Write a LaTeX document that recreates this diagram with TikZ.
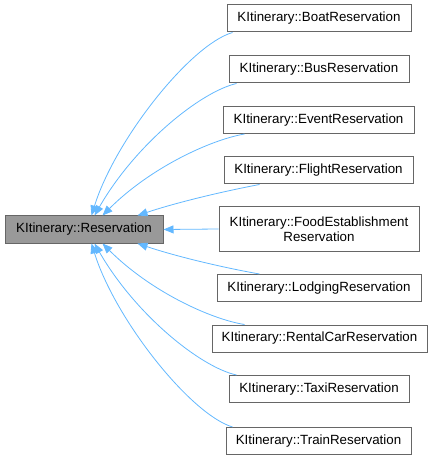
\documentclass[tikz,border=0pt]{standalone}
\usepackage{fontspec}
\setmainfont{Liberation Sans}
\usetikzlibrary{arrows.meta,calc}
\definecolor{edgeblue}{HTML}{63B8FF}
\definecolor{boxborder}{HTML}{666666}
\definecolor{basefill}{HTML}{999999}
\begin{document}
\begin{tikzpicture}[x=0.75pt,y=-0.75pt,
  cls/.style={draw=boxborder,line width=0.75pt,inner sep=0pt,minimum height=27*0.75pt,font=\fontsize{10}{11.5}\selectfont,align=center,text=black},
  inh/.style={draw=edgeblue,line width=0.6pt,-{Triangle[length=7.5pt,width=6pt]}}]
\useasboundingbox (0,0) rectangle (432,459);
\node[cls,fill=basefill,minimum width=158*0.75pt] (base) at (84,229.5) {KItinerary::Reservation};
\node[cls,minimum width=184*0.75pt] (boat) at (319,18.5) {KItinerary::BoatReservation};
\node[cls,minimum width=180*0.75pt] (bus) at (319,69.5) {KItinerary::BusReservation};
\node[cls,minimum width=191*0.75pt] (event) at (318.5,120) {KItinerary::EventReservation};
\node[cls,minimum width=189*0.75pt] (flight) at (318.5,170.5) {KItinerary::FlightReservation};
\node[cls,minimum width=200*0.75pt,minimum height=44*0.75pt] (food) at (319,229) {KItinerary::FoodEstablishment\\Reservation};
\node[cls,minimum width=204*0.75pt] (lodging) at (319,288) {KItinerary::LodgingReservation};
\node[cls,minimum width=215*0.75pt] (rental) at (319.5,338.5) {KItinerary::RentalCarReservation};
\node[cls,minimum width=180*0.75pt] (taxi) at (319,389) {KItinerary::TaxiReservation};
\node[cls,minimum width=185*0.75pt] (train) at (318.5,441) {KItinerary::TrainReservation};
% upper edges
\draw[inh] ($(boat.south west)+(6,0)$) .. controls (190,45) and (115,140) .. ($(base.north west)+(87,0)$);
\draw[inh] ($(bus.south west)+(8,0)$) .. controls (200,92) and (135,145) .. ($(base.north west)+(90,0)$);
\draw[inh] ($(event.south west)+(22,0)$) .. controls (210,140) and (150,168) .. ($(base.north west)+(98,0)$);
\draw[inh] ($(flight.south west)+(36,0)$) .. controls (220,192) and (175,203) .. ($(base.north west)+(133,0)$);
\draw[inh] (food.west) -- (base.east);
% lower edges
\draw[inh] ($(lodging.north west)+(43,0)$) .. controls (220,267) and (175,256) .. ($(base.south west)+(133,0)$);
\draw[inh] ($(rental.north west)+(33,0)$) .. controls (210,319) and (150,291) .. ($(base.south west)+(98,0)$);
\draw[inh] ($(taxi.north west)+(8,0)$) .. controls (200,367) and (135,314) .. ($(base.south west)+(90,0)$);
\draw[inh] ($(train.north west)+(7,0)$) .. controls (190,414) and (115,319) .. ($(base.south west)+(87,0)$);
\end{tikzpicture}
\end{document}
